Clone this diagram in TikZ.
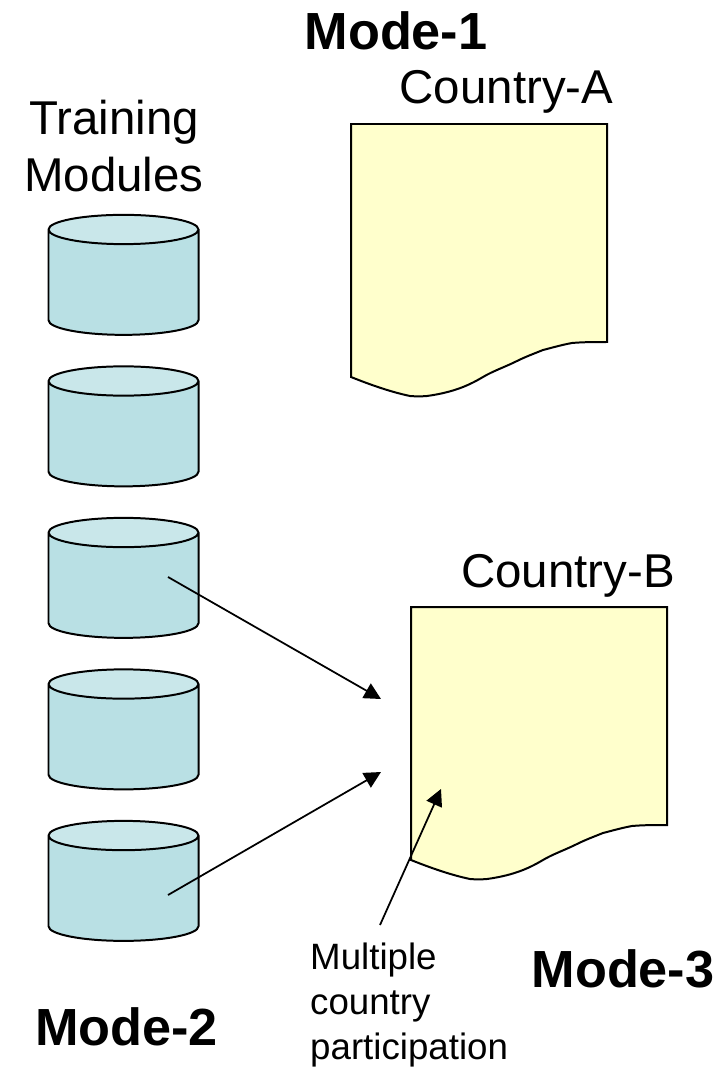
\documentclass[tikz,border=0pt]{standalone}
\usepackage{fontspec}
\setmainfont{Liberation Sans}
\usetikzlibrary{arrows.meta,shapes.geometric,positioning}
\definecolor{modbody}{RGB}{185,224,228}
\definecolor{modtop}{RGB}{201,231,234}
\definecolor{docyellow}{RGB}{255,255,204}
\tikzstyle{arrow} = [line width=1.5pt,-{Triangle[length=0.5cm,width=0.5cm]}]
\tikzstyle{module} = [cylinder, shape border rotate=90, draw=black, line width=1.7pt, aspect=3.75, minimum width=4.5cm, minimum height=3.6cm, outer sep=0pt, cylinder uses custom fill, cylinder body fill=modbody, cylinder end fill=modtop]
\tikzstyle{docanchor} = [rectangle, minimum width=7.68cm, minimum height=6.5cm, inner sep=0pt, outer sep=0pt]
\tikzstyle{docshape} = [draw=black, line width=1.7pt, fill=docyellow, line join=miter]
\tikzstyle{bigtitle} = [font=\fontsize{44.6}{50}\selectfont\bfseries, inner sep=0pt, anchor=base]
\tikzstyle{country} = [font=\fontsize{40.5}{48.9}\selectfont, inner sep=0pt, align=center]
\tikzstyle{remark} = [font=\fontsize{31.3}{38.7}\selectfont, inner sep=0pt, align=left]
\newcommand{\docpage}[1]{%
\draw[docshape, shift={(#1.north west)}] (0,0) -- (256,0) -- (256,218)
  .. controls (245,218) and (232,218) .. (221,219)
  .. controls (210,221) and (200,224) .. (192,226)
  .. controls (182,230) and (174,233) .. (166,237)
  .. controls (154,243) and (142,247) .. (132,253)
  .. controls (120,260) and (105,268) .. (76,272)
  .. controls (70,272.5) and (65,272.5) .. (59,272)
  .. controls (40,268) and (20,261) .. (0,253) -- cycle;
}
\begin{document}
\begin{tikzpicture}[x=0.03cm,y=-0.03cm]
\useasboundingbox (0,0) rectangle (721,1067);
% Training modules
\node (m1) [module] at (123.5,285) {};
\node (m2) [module, below of=m1, node distance=4.545cm] {};
\node (m3) [module, below of=m2, node distance=4.545cm] {};
\node (m4) [module, below of=m3, node distance=4.545cm] {};
\node (m5) [module, below of=m4, node distance=4.545cm] {};

% Country documents
\node (docA) [docanchor, anchor=north west] at (351,124) {};
\node (docB) [docanchor, anchor=north west] at (411,607) {};
\docpage{docA}
\docpage{docB}

% Labels
\node (mode1) [bigtitle] at (396,50) {Mode-1};
\node (mode2) [bigtitle] at (126.5,1045) {Mode-2};
\node (mode3) [bigtitle] at (623,987) {Mode-3};
\node (countryA) [country, anchor=base] at (506.5,104) {Country-A};
\node (countryB) [country, anchor=base] at (568,587) {Country-B};
\node (training) [country] at (114,146) {Training\\Modules};
\node (multi) [remark, anchor=west] at (310,1005) {Multiple\\country\\participation};

% Arrows
\coordinate (from3) at (168,577);
\coordinate (to3) at (381,699);
\coordinate (from5) at (168,895);
\coordinate (to5) at (381,772);
\coordinate (fromM) at (380,925);
\coordinate (toM) at (441,789);
\draw[arrow] (from3) -- (to3);
\draw[arrow] (from5) -- (to5);
\draw[arrow] (fromM) -- (toM);
\end{tikzpicture}
\end{document}
